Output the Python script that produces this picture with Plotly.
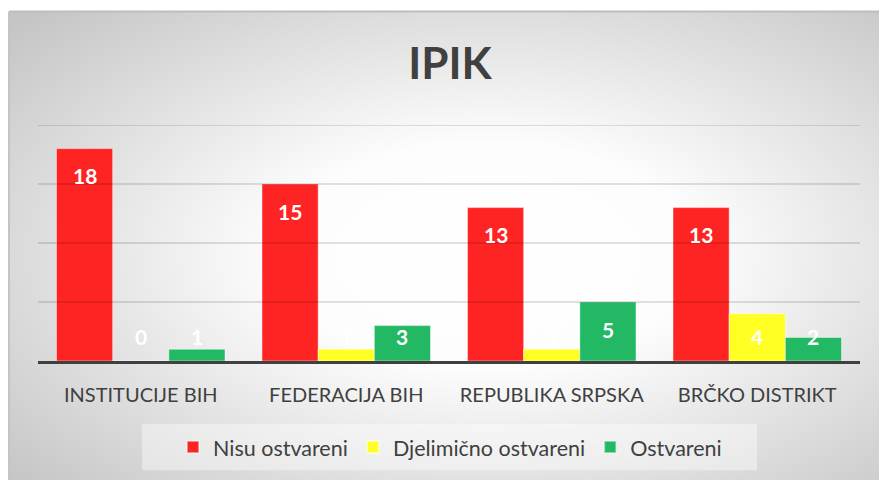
import base64
import plotly.graph_objects as go

categories = ["INSTITUCIJE BIH", "FEDERACIJA BIH", "REPUBLIKA SRPSKA", "BRČKO DISTRIKT"]
nisu_ostvareni = [18, 15, 13, 13]
djelimicno_ostvareni = [0, 1, 1, 4]
ostvareni = [1, 3, 5, 2]
series_names = ["Nisu ostvareni", "Djelimično ostvareni", "Ostvareni"]
series_values = [nisu_ostvareni, djelimicno_ostvareni, ostvareni]
colors = ["#FF2424", "#FFFF24", "#23B964"]
grid_values = [5, 10, 15, 20]

W, H = 879, 480
L, R, T, B = 38, 19, 125.4, 119
plot_w = W - L - R
plot_h = H - T - B
FONT = "Lato"

fig = go.Figure()
for name, vals, col in zip(series_names, series_values, colors):
    fig.add_trace(go.Bar(
        x=categories, y=vals, name=name,
        marker=dict(color=col, line=dict(color="rgba(255,255,255,0.45)", width=1)),
        hoverinfo="x+y+name",
    ))

# data labels
units_per_px = 20 / plot_h
bar_px = plot_w / len(categories) * (1 - 0.18) / 3
annotations = []
for i, vals in enumerate(series_values):
    for c, v in zip(categories, vals):
        ly = max(v - 27 * units_per_px, 24 * units_per_px)
        annotations.append(dict(
            x=c, y=ly, xref="x", yref="y", text=str(v), showarrow=False,
            xshift=(i - 1) * bar_px, yanchor="middle",
            font=dict(family=FONT, size=21, color="white", weight="bold"),
        ))

# background gradient (chart area)
svg = (
    "<svg xmlns='http://www.w3.org/2000/svg' width='870' height='468' viewBox='0 0 870 468' preserveAspectRatio='none'>"
    "<defs><radialGradient id='g' cx='0.55' cy='0.52' r='0.74'>"
    "<stop offset='0' stop-color='#ffffff'/>"
    "<stop offset='0.32' stop-color='#fdfdfd'/>"
    "<stop offset='1' stop-color='#c4c4c4'/>"
    "</radialGradient></defs>"
    "<rect width='870' height='468' fill='url(#g)'/></svg>"
)
src = "data:image/svg+xml;base64," + base64.b64encode(svg.encode()).decode()
bx0, by0 = 9, 12
img = dict(
    source=src, xref="paper", yref="paper",
    x=(bx0 - L) / plot_w, y=(H - B - by0) / plot_h,
    sizex=(W - bx0) / plot_w, sizey=(H - by0) / plot_h,
    xanchor="left", yanchor="top", sizing="stretch", layer="below",
)

shapes = []
for g in grid_values:
    shapes.append(dict(type="line", xref="paper", yref="y", x0=0, x1=1, y0=g, y1=g,
                       line=dict(color="rgba(0,0,0,0.16)", width=1.5), layer="above"))
# legend box
shapes.append(dict(type="rect", xref="paper", yref="paper",
                   x0=(142 - L) / plot_w, x1=(757 - L) / plot_w,
                   y0=(H - B - 470) / plot_h, y1=(H - B - 424) / plot_h,
                   fillcolor="rgba(255,255,255,0.4)", line=dict(width=0), layer="below"))
# chart border top/left
shapes.append(dict(type="line", xref="paper", yref="paper",
                   x0=(bx0 - L) / plot_w, x1=(W - L) / plot_w,
                   y0=(H - B - by0) / plot_h, y1=(H - B - by0) / plot_h,
                   line=dict(color="#bdbdbd", width=2), layer="below"))
shapes.append(dict(type="line", xref="paper", yref="paper",
                   x0=(bx0 - L) / plot_w, x1=(bx0 - L) / plot_w,
                   y0=(H - B - by0) / plot_h, y1=-B / plot_h,
                   line=dict(color="#c4c4c4", width=2), layer="below"))

fig.update_layout(
    width=W, height=H,
    margin=dict(l=L, r=R, t=T, b=B, autoexpand=False),
    paper_bgcolor="white", plot_bgcolor="rgba(0,0,0,0)",
    barmode="group", bargap=0.18, bargroupgap=0,
    title=dict(text="<b>IPIK</b>", x=450 / W, xref="container", xanchor="center",
               y=1 - 64 / H, yref="container", yanchor="middle",
               font=dict(family=FONT, size=44, color="#404040")),
    xaxis=dict(showline=True, linecolor="#404040", linewidth=3, ticks="outside",
               ticklen=14, tickcolor="rgba(0,0,0,0)",
               tickfont=dict(family=FONT, size=20, color="#404040"), showgrid=False),
    yaxis=dict(range=[0, 20], showgrid=False, showticklabels=False, zeroline=False,
               fixedrange=True),
    legend=dict(orientation="h", x=(450 - L) / plot_w, xanchor="center",
                y=(H - B - 447) / plot_h, yanchor="middle",
                bgcolor="rgba(0,0,0,0)",
                font=dict(family=FONT, size=21.5, color="#404040"),
                itemsizing="constant"),
    images=[img], shapes=shapes, annotations=annotations,
    showlegend=True,
)
fig.write_html("out.html", config={"displayModeBar": False},
               post_script="document.body.style.margin='0px';document.body.style.overflow='hidden';")
